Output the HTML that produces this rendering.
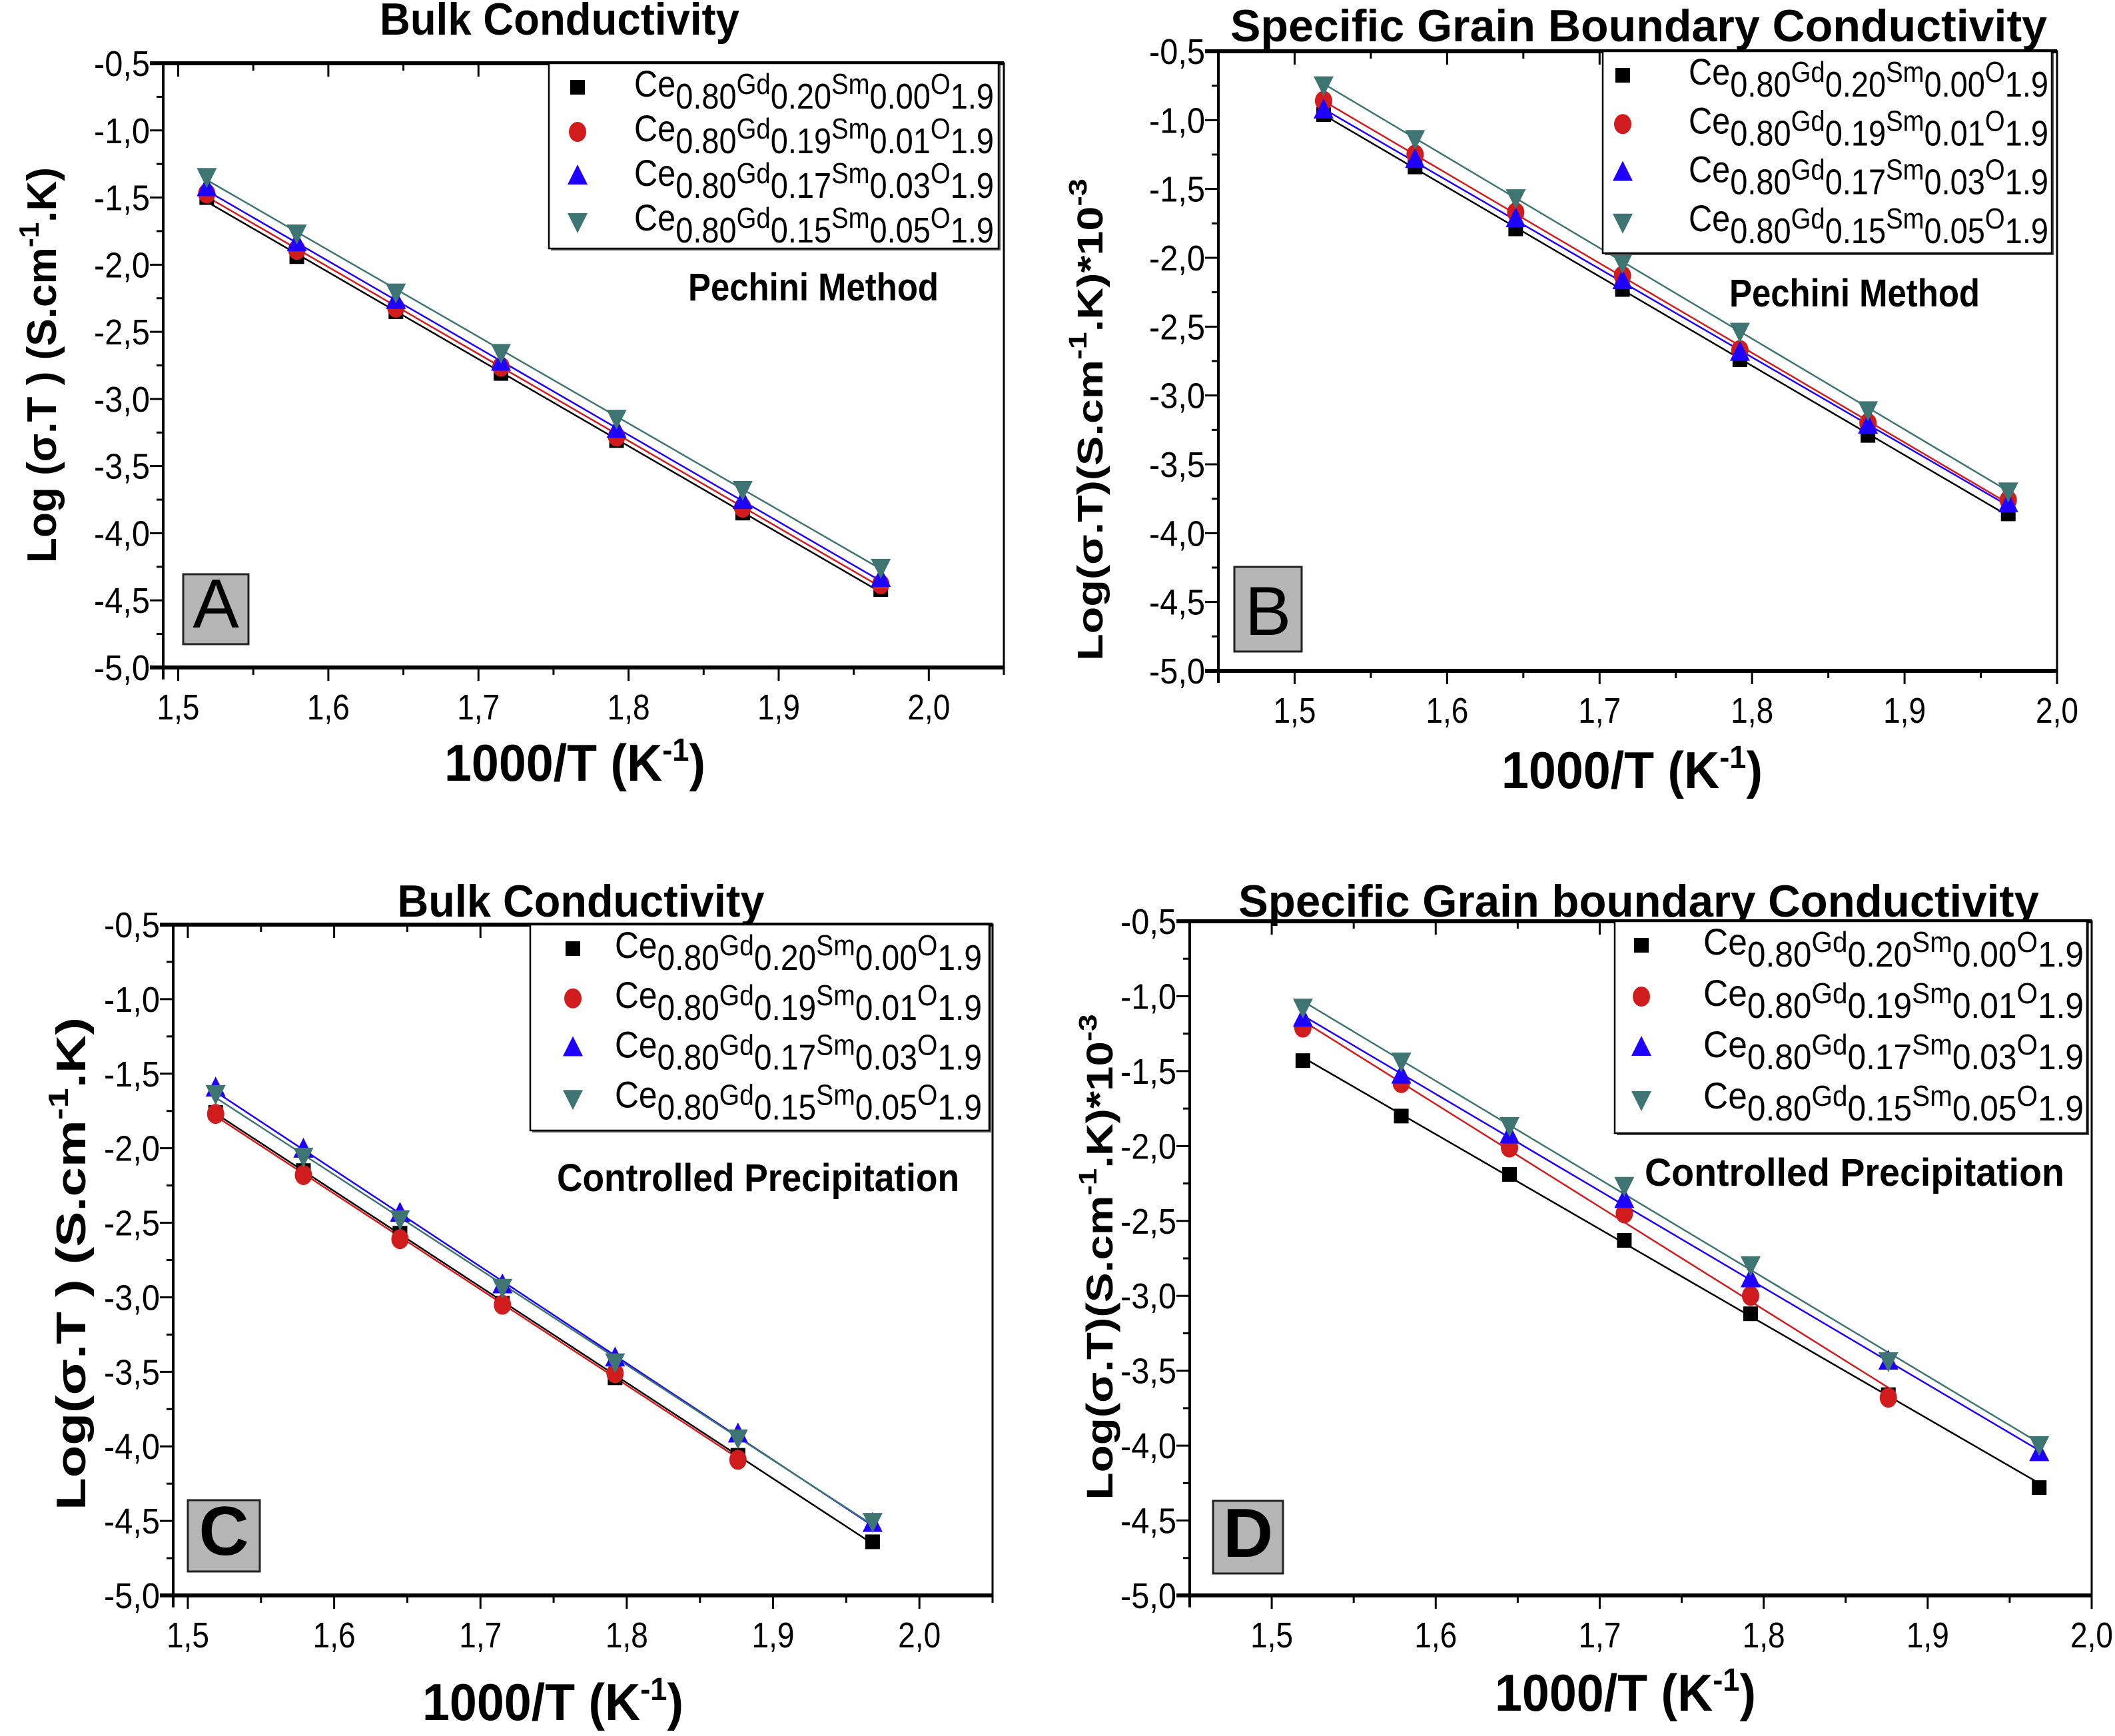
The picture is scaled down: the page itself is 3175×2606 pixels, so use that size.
<!DOCTYPE html>
<html><head><meta charset="utf-8"><title>Conductivity Arrhenius plots</title>
<style>
html,body{margin:0;padding:0;background:#fff;}
svg{display:block;}
text{font-family:"Liberation Sans",sans-serif;}
</style></head>
<body>
<svg id="fig" xmlns="http://www.w3.org/2000/svg" width="3175" height="2606" viewBox="0 0 3175 2606"></svg>
<script>
// ---- data ----
const xVals = [1.519, 1.579, 1.645, 1.715, 1.792, 1.876, 1.968];
const seriesNames = ["s000", "s001", "s003", "s005"];
const legendGd = ["0.20", "0.19", "0.17", "0.15"];
const legendSm = ["0.00", "0.01", "0.03", "0.05"];
const yTickLabels = ["-0,5","-1,0","-1,5","-2,0","-2,5","-3,0","-3,5","-4,0","-4,5","-5,0"];
const yTickValues = [-0.5,-1.0,-1.5,-2.0,-2.5,-3.0,-3.5,-4.0,-4.5,-5.0];
const xTickValues = [1.5,1.6,1.7,1.8,1.9,2.0];
const xTickLabels = ["1,5","1,6","1,7","1,8","1,9","2,0"];

const aBlack = [-1.50,-1.94,-2.35,-2.81,-3.31,-3.85,-4.42];
const aRed   = [-1.47,-1.89,-2.32,-2.76,-3.28,-3.81,-4.38];
const aBlue  = [-1.43,-1.84,-2.27,-2.73,-3.23,-3.76,-4.34];
const aTeal  = [-1.34,-1.76,-2.20,-2.65,-3.14,-3.67,-4.25];

const bBlack = [-0.96,-1.34,-1.79,-2.23,-2.74,-3.29,-3.86];
const bRed   = [-0.86,-1.25,-1.67,-2.13,-2.67,-3.20,-3.76];
const bBlue  = [-0.93,-1.29,-1.72,-2.17,-2.69,-3.22,-3.79];
const bTeal  = [-0.74,-1.13,-1.56,-2.03,-2.53,-3.10,-3.69];

const cBlack = [-1.76,-2.15,-2.57,-3.04,-3.54,-4.06,-4.64];
const cRed   = [-1.77,-2.18,-2.61,-3.05,-3.51,-4.09];
const cBlue  = [-1.60,-2.01,-2.44,-2.92,-3.41,-3.92,-4.52];
const cTeal  = [-1.63,-2.05,-2.47,-2.93,-3.43,-3.94,-4.50];

const dBlack = [-1.43,-1.80,-2.19,-2.63,-3.12,-3.66,-4.28];
const dRed   = [-1.21,-1.58,-2.01,-2.45,-3.00,-3.68];
const dBlue  = [-1.15,-1.53,-1.93,-2.36,-2.89,-3.44,-4.05];
const dTeal  = [-1.07,-1.43,-1.86,-2.26,-2.79,-3.43,-3.99];

// ---- layout ----
const NS = "http://www.w3.org/2000/svg";
const svg = document.getElementById("fig");
const colors = ["#000000", "#d01c1c", "#1f00ff", "#3e7573"];
const shapes = ["square", "circle", "up", "down"];

function mk(tag, attrs, parent) {
  const e = document.createElementNS(NS, tag);
  for (const k in attrs) e.setAttribute(k, attrs[k]);
  (parent || svg).appendChild(e);
  return e;
}

function marker(g, shape, cx, cy, color) {
  let m;
  if (shape === "square") m = mk("rect", {x: cx-11, y: cy-11, width: 22, height: 22, fill: color}, g);
  else if (shape === "circle") m = mk("ellipse", {cx: cx, cy: cy, rx: 13, ry: 15, fill: color}, g);
  else if (shape === "up") m = mk("polygon", {points: `${cx},${cy-18} ${cx-15},${cy+12} ${cx+15},${cy+12}`, fill: color}, g);
  else m = mk("polygon", {points: `${cx},${cy+18} ${cx-15},${cy-12} ${cx+15},${cy-12}`, fill: color}, g);
  
  
}

function fit(xs, ys) {
  const n = ys.length; let sx=0, sy=0, sxx=0, sxy=0;
  for (let i=0;i<n;i++){ sx+=xs[i]; sy+=ys[i]; sxx+=xs[i]*xs[i]; sxy+=xs[i]*ys[i]; }
  const b = (n*sxy - sx*sy)/(n*sxx - sx*sx); const a = (sy - b*sx)/n;
  return [a, b];
}

function panel(p) {
  const g = mk("g", {});
  
  
  const X = v => p.x0 + (v - p.xmin) / (p.xmax - p.xmin) * (p.x1 - p.x0);
  const Y = v => p.y0 + (-0.5 - v) / 4.5 * (p.y1 - p.y0);

  const t = mk("text", {x: p.titleX, y: p.titleY, "text-anchor": "middle", "font-size": 68, "font-weight": "bold", textLength: p.titleW, lengthAdjust: "spacingAndGlyphs"}, g);
  t.textContent = p.title;
  
  

  for (let s = 0; s < 4; s++) {
    const ys = p.series[s];
    const xs = xVals.slice(0, ys.length);
    const [a, b] = fit(xs, ys);
    const ln = mk("line", {x1: X(xs[0]), y1: Y(a + b*xs[0]), x2: X(xs[xs.length-1]), y2: Y(a + b*xs[xs.length-1]), stroke: colors[s], "stroke-width": 2.5}, g);
    
    
  }
  for (let s = 0; s < 4; s++) {
    const ys = p.series[s];
    const sg = mk("g", {}, g);
    
    
    for (let i = 0; i < ys.length; i++) marker(sg, shapes[s], X(xVals[i]), Y(ys[i]), colors[s]);
  }

  const fr = mk("rect", {x: p.x0, y: p.y0, width: p.x1 - p.x0, height: p.y1 - p.y0, fill: "none", stroke: "#000", "stroke-width": 3}, g);
  
  
  const bx = mk("line", {x1: p.x0 - 20, y1: p.y1, x2: p.x1, y2: p.y1, stroke: "#000", "stroke-width": 6}, g);
  
  
  const tx = mk("line", {x1: p.x0 - 20, y1: p.y0, x2: p.x1, y2: p.y0, stroke: "#000", "stroke-width": 6}, g);
  
  
  const ly = mk("line", {x1: p.x0, y1: p.y0, x2: p.x0, y2: p.y1 + 18, stroke: "#000", "stroke-width": 4}, g);
  
  

  for (let v = Math.ceil(p.xmin * 20 - 1e-6) / 20; v <= p.xmax + 1e-6; v += 0.05) {
    const major = Math.abs(v * 10 - Math.round(v * 10)) < 1e-6;
    const xx = X(v);
    mk("line", {x1: xx, y1: p.y1, x2: xx, y2: p.y1 + (major ? 20 : 11), stroke: "#000", "stroke-width": 3}, g);
    mk("line", {x1: xx, y1: p.y0, x2: xx, y2: p.y0 + (major ? 20 : 11), stroke: "#000", "stroke-width": 3}, g);
  }
  for (let i = 0; i < xTickValues.length; i++) {
    const lt = mk("text", {x: X(xTickValues[i]), y: p.y1 + 78, "text-anchor": "middle", "font-size": 54, textLength: 64, lengthAdjust: "spacingAndGlyphs"}, g);
    lt.textContent = xTickLabels[i];
    
    
  }
  for (let v = -0.5; v >= -5.0001; v -= 0.25) {
    const major = Math.abs(v * 2 - Math.round(v * 2)) < 1e-6;
    const yy = Y(v);
    mk("line", {x1: p.x0, y1: yy, x2: p.x0 - (major ? 20 : 10), y2: yy, stroke: "#000", "stroke-width": 3}, g);
  }
  for (let i = 0; i < yTickValues.length; i++) {
    const lt = mk("text", {x: p.x0 - 20, y: Y(yTickValues[i]) + 19, "text-anchor": "end", "font-size": 54, textLength: 84, lengthAdjust: "spacingAndGlyphs"}, g);
    lt.textContent = yTickLabels[i];
    
    
  }

  const xt = mk("text", {x: p.xtX, y: p.xtY, "text-anchor": "middle", "font-size": 78, "font-weight": "bold", textLength: 392, lengthAdjust: "spacingAndGlyphs"}, g);
  xt.innerHTML = '1000/T (K<tspan dy="-30" font-size="48">-1</tspan><tspan dy="30">)</tspan>';
  
  

  const yt = mk("text", {x: 0, y: 0, "text-anchor": "middle", "font-size": p.ytFont, "font-weight": "bold", textLength: p.ytLen, lengthAdjust: "spacingAndGlyphs", transform: `translate(${p.ytX},${p.ytY}) rotate(-90)`}, g);
  yt.innerHTML = p.ytHtml;
  
  

  const lg = mk("g", {}, g);
  
  
  mk("rect", {x: p.lx0 + 3, y: p.y0 + 3, width: p.lx1 - p.lx0, height: p.ly1 - p.y0, fill: "#555"}, lg);
  mk("rect", {x: p.lx0, y: p.y0, width: p.lx1 - p.lx0, height: p.ly1 - p.y0, fill: "#fff", stroke: "#000", "stroke-width": 2.5}, lg);
  const rowH = (p.ly1 - p.y0 - 10) / 4;
  for (let s = 0; s < 4; s++) {
    const cy = p.y0 + 36 + s * rowH;
    const eg = mk("g", {}, lg);
    
    
    marker(eg, shapes[s], p.symX, cy, colors[s]);
    const tt = mk("text", {x: p.txX, y: cy + 14, "font-size": 56, textLength: p.txW, lengthAdjust: "spacingAndGlyphs"}, eg);
    tt.innerHTML = `Ce<tspan dy="18" font-size="54">0.80</tspan><tspan dy="-22" font-size="44">Gd</tspan><tspan dy="22" font-size="54">${legendGd[s]}</tspan><tspan dy="-22" font-size="44">Sm</tspan><tspan dy="22" font-size="54">${legendSm[s]}</tspan><tspan dy="-22" font-size="44">O</tspan><tspan dy="22" font-size="54">1.9</tspan>`;
  }

  const ml = mk("text", {x: p.mX, y: p.mY, "text-anchor": "middle", "font-size": 58, "font-weight": "bold", textLength: p.mW, lengthAdjust: "spacingAndGlyphs"}, g);
  ml.textContent = p.method;
  
  

  const pb = mk("g", {}, g);
  
  
  mk("rect", {x: p.bx0, y: p.by0, width: p.bx1 - p.bx0, height: p.by1 - p.by0, fill: "#b5b5b5", stroke: "#222", "stroke-width": 3}, pb);
  const lt = mk("text", {x: (p.bx0 + p.bx1) / 2, y: p.by1 - 25, "text-anchor": "middle", "font-size": 104, "font-weight": p.letterBold ? "bold" : "normal"}, pb);
  lt.textContent = p.letter;
}

const ylabA = 'Log (σ.T ) (S.cm<tspan dy="-26" font-size="42">-1</tspan><tspan dy="26">.K)</tspan>';
const ylabC = 'Log(σ.T ) (S.cm<tspan dy="-26" font-size="42">-1</tspan><tspan dy="26">.K)</tspan>';
const ylabB = 'Log(σ.T)(S.cm<tspan dy="-24" font-size="38">-1</tspan><tspan dy="24">.K)*10</tspan><tspan dy="-24" font-size="38">-3</tspan>';

panel({name: "panel-a", x0: 245, x1: 1507, y0: 95, y1: 1002, xmin: 1.49, xmax: 2.05,
  series: [aBlack, aRed, aBlue, aTeal], title: "Bulk Conductivity", titleX: 840, titleY: 52, titleW: 540,
  xtX: 863, xtY: 1172, ytX: 84, ytY: 548, ytFont: 62, ytLen: 594, ytHtml: ylabA,
  lx0: 824, lx1: 1499, ly1: 373, symX: 867, txX: 952, txW: 540,
  method: "Pechini Method", mX: 1221, mY: 451, mW: 376,
  bx0: 275, bx1: 373, by0: 862, by1: 967, letter: "A", letterBold: false});
panel({name: "panel-b", x0: 1829, x1: 3088, y0: 77, y1: 1007, xmin: 1.45, xmax: 2.0,
  series: [bBlack, bRed, bBlue, bTeal], title: "Specific Grain Boundary Conductivity", titleX: 2460, titleY: 62, titleW: 1226,
  xtX: 2450, xtY: 1183, ytX: 1655, ytY: 630, ytFont: 54, ytLen: 724, ytHtml: ylabB,
  lx0: 2406, lx1: 3080, ly1: 380, symX: 2436, txX: 2535, txW: 540,
  method: "Pechini Method", mX: 2784, mY: 460, mW: 376,
  bx0: 1853, bx1: 1954, by0: 851, by1: 978, letter: "B", letterBold: false});
panel({name: "panel-c", x0: 260, x1: 1490, y0: 1388, y1: 2395, xmin: 1.49, xmax: 2.05,
  series: [cBlack, cRed, cBlue, cTeal], title: "Bulk Conductivity", titleX: 872, titleY: 1376, titleW: 551,
  xtX: 830, xtY: 2582, ytX: 128, ytY: 1897, ytFont: 62, ytLen: 740, ytHtml: ylabC,
  lx0: 796, lx1: 1485, ly1: 1697, symX: 860, txX: 923, txW: 551,
  method: "Controlled Precipitation", mX: 1138, mY: 1788, mW: 604,
  bx0: 282, bx1: 390, by0: 2252, by1: 2359, letter: "C", letterBold: true});
panel({name: "panel-d", x0: 1786, x1: 3140, y0: 1383, y1: 2395, xmin: 1.45, xmax: 2.0,
  series: [dBlack, dRed, dBlue, dTeal], title: "Specific Grain boundary Conductivity", titleX: 2460, titleY: 1376, titleW: 1202,
  xtX: 2440, xtY: 2568, ytX: 1670, ytY: 1887, ytFont: 56, ytLen: 729, ytHtml: ylabB,
  lx0: 2424, lx1: 3133, ly1: 1701, symX: 2464, txX: 2557, txW: 571,
  method: "Controlled Precipitation", mX: 2784, mY: 1780, mW: 630,
  bx0: 1821, bx1: 1926, by0: 2253, by1: 2362, letter: "D", letterBold: true});
</script>
</body></html>
